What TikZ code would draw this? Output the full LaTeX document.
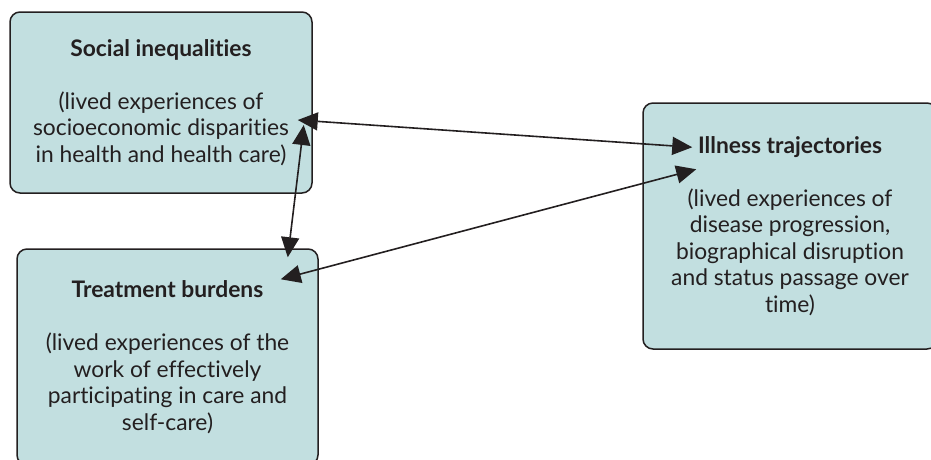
\documentclass[tikz,border=0pt]{standalone}
\usepackage{fontspec}
\setmainfont{Lato}[Ligatures=NoCommon]
\usepackage{tikz}
\usetikzlibrary{arrows.meta, positioning}
\definecolor{tealbox}{RGB}{194,223,224}
\definecolor{inkgray}{RGB}{35,31,32}
\tikzset{>={Triangle[length=20pt,width=18pt]}}
\tikzset{themebox/.style={draw=inkgray, line width=1.5pt, fill=tealbox, rounded corners=10pt, align=center, text=inkgray, inner sep=0pt, font=\fontsize{22.8}{26.5}\selectfont}}
\tikzset{link/.style={<->, line width=1.6pt, inkgray}}

\begin{document}
\begin{tikzpicture}[x=1pt,y=-1pt]
			\useasboundingbox (0,0) rectangle (931,459);
			\clip (0,0) rectangle (931,459);

			\node [themebox, minimum width=302pt, minimum height=181pt] (ineq) at (161,102.5)
				{\textbf{Social inequalities}\\[26.5pt](lived experiences of\\socioeconomic disparities\\in health and health care)};
			\node [themebox, minimum width=301pt, minimum height=216pt] (burden) at (167.5,357)
				{\textbf{Treatment burdens}\\[26.5pt](lived experiences of the\\work of effectively\\participating in care and\\self-care)};
			\node [themebox, minimum width=294pt, minimum height=246pt] (illness) at (790,226)
				{\textbf{Illness trajectories}\\[26.5pt](lived experiences of\\disease progression,\\biographical disruption\\and status passage over\\time)};

			% two-way links
			\draw [link] ([xshift=-15pt,yshift=-17.5pt]ineq.east) -- ([xshift=50pt,yshift=-45pt]illness.north west);
			\draw [link] ([xshift=-9pt,yshift=-22.5pt]ineq.east) -- ([xshift=-31pt,yshift=-9pt]burden.north east);
			\draw [link] ([xshift=-38pt,yshift=-31pt]burden.north east) -- ([xshift=54pt,yshift=-67pt]illness.north west);
	\end{tikzpicture}
\end{document}
